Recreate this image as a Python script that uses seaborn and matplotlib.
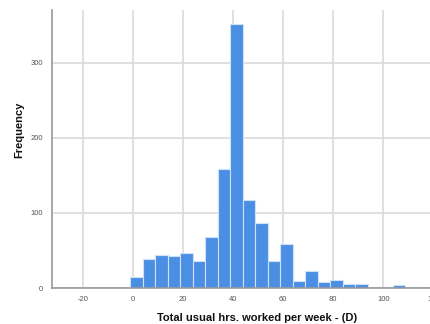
import numpy as np
import pandas as pd
import matplotlib
matplotlib.use("Agg")
import matplotlib.pyplot as plt
import seaborn as sns

# ---- data ----
bin_width = 5
first_edge = -1.25
counts = [14, 39, 44, 43, 47, 36, 68, 158, 351, 117, 87, 36, 59,
          9, 22, 8, 11, 5, 5, 1, 1, 4, 1, 0, 1]
x_ticks = [-20, 0, 20, 40, 60, 80, 100, 120]
y_ticks = [0, 100, 200, 300]
x_label = "Total usual hrs. worked per week - (D)"
y_label = "Frequency"

n_bins = len(counts)
last_edge = first_edge + bin_width * n_bins
centers = first_edge + bin_width * (np.arange(n_bins) + 0.5)
df = pd.DataFrame({"hours": centers, "count": counts})

sns.set_style("white")
plt.rcParams["font.family"] = ["Liberation Sans", "DejaVu Sans"]
plt.rcParams["axes.unicode_minus"] = False

fig = plt.figure(figsize=(4.31, 3.24), dpi=100)
ax = fig.add_axes([0.1206, 0.1111, 0.9137, 0.858])

ax.grid(True, color="#dadada", linewidth=1.2, zorder=0)
ax.set_axisbelow(True)

sns.histplot(data=df, x="hours", weights="count", binwidth=bin_width,
             binrange=(first_edge, last_edge), ax=ax,
             color="#4a8fe3", alpha=1.0, edgecolor="#cfe0f7", linewidth=0.8,
             zorder=2)

ax.set_xlim(-32.5, 125)
ax.set_ylim(0, 370)
ax.set_xticks(x_ticks)
ax.set_yticks(y_ticks)
ax.tick_params(axis="both", length=0, labelsize=5.5, labelcolor="#555555")
ax.tick_params(axis="y", pad=6.5)
ax.tick_params(axis="x", pad=5.5)

for s in ["top", "right"]:
    ax.spines[s].set_visible(False)
for s in ["left", "bottom"]:
    ax.spines[s].set_color("#999999")
    ax.spines[s].set_linewidth(1.2)

ax.set_xlabel(x_label, fontsize=8, fontweight="bold", color="#111111")
ax.set_ylabel(y_label, fontsize=8, fontweight="bold", color="#111111")
ax.xaxis.set_label_coords((257.5 - 52) / (0.9137 * 431), -0.09)
ax.yaxis.set_label_coords(-(52 - 24) / (0.9137 * 431), 0.57)

fig.savefig("out.png", dpi=100)
